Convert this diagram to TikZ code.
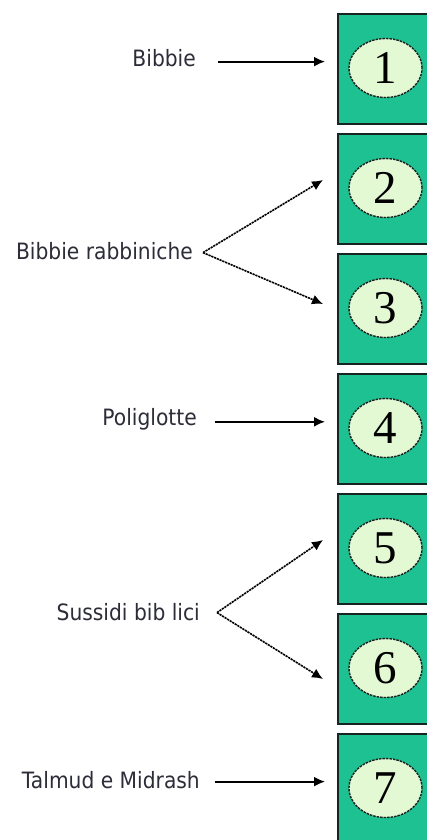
\documentclass[tikz,border=0pt]{standalone}
\usepackage{fontspec}
\setmainfont{DejaVu Sans}
\newfontfamily\digitfont{Liberation Serif}
\usetikzlibrary{arrows.meta,shapes.geometric}
\definecolor{boxgreen}{RGB}{30,194,146}
\definecolor{ovalfill}{RGB}{226,249,212}
\definecolor{txtgray}{RGB}{45,45,58}
\definecolor{edgegray}{RGB}{25,35,32}
\newcommand\narrowlbl[1]{\scalebox{0.9}[1]{#1}}
\tikzset{
  lab/.style={inner sep=0pt, anchor=base east, text=txtgray, font=\fontsize{22.5}{24}\selectfont},
  gbox/.style={draw=edgegray, line width=2pt, fill=boxgreen, anchor=north west,
    minimum width=110pt, minimum height=110pt, inner sep=0pt},
  oval/.style={ellipse, draw=edgegray, line width=1.4pt, dash pattern=on 2.5pt off 1pt,
    fill=ovalfill, minimum width=73pt, minimum height=59pt, inner sep=0pt,
    font=\digitfont\fontsize{47}{50}\selectfont},
  arr/.style={line width=1.8pt, -{Latex[length=11pt,width=10pt]}},
  darr/.style={line width=1.6pt, dash pattern=on 2.2pt off 0.8pt, -{Latex[length=11pt,width=10pt]}}
}
\begin{document}
\begin{tikzpicture}[x=1pt,y=-1pt]
\clip (0,0) rectangle (427,840);
\fill[white] (0,0) rectangle (427,840);
% boxes
\foreach \k in {1,...,7}{
  \node[gbox] (b\k) at (337,{13+120*(\k-1)}) {};
  \node[oval] (e\k) at (385.5,{68+120*(\k-1)}) {\k};
}
% labels
\node[lab] (t1) at (196,67) {\narrowlbl{Bibbie}};
\node[lab] (t2) at (193,259) {\narrowlbl{Bibbie rabbiniche}};
\node[lab] (t3) at (197,425) {\narrowlbl{Poliglotte}};
\node[lab] (t4) at (200,620) {\narrowlbl{Sussidi bib lici}};
\node[lab] (t5) at (200,788) {\narrowlbl{Talmud e Midrash}};
% connector start points
\coordinate (s1) at ([xshift=22pt,yshift=-3pt]t1.east);
\coordinate (s2) at ([xshift=10pt,yshift=-2pt]t2.east);
\coordinate (s3) at ([xshift=18pt,yshift=-3pt]t3.east);
\coordinate (s4) at ([xshift=17pt,yshift=-1pt]t4.east);
\coordinate (s5) at ([xshift=15pt,yshift=-2pt]t5.east);
% connectors
\draw[arr] (s1) -- ([xshift=-12pt]b1.west |- s1);
\draw[darr] (s2) -- ([xshift=-14pt,yshift=9pt]b2.west);
\draw[darr] (s2) -- ([xshift=-14pt,yshift=5pt]b3.west);
\draw[arr] (s3) -- ([xshift=-12pt]b4.west |- s3);
\draw[darr] (s4) -- ([xshift=-14pt,yshift=9pt]b5.west);
\draw[darr] (s4) -- ([xshift=-14pt,yshift=-10pt]b6.west);
\draw[arr] (s5) -- ([xshift=-12pt]b7.west |- s5);
\end{tikzpicture}
\end{document}
